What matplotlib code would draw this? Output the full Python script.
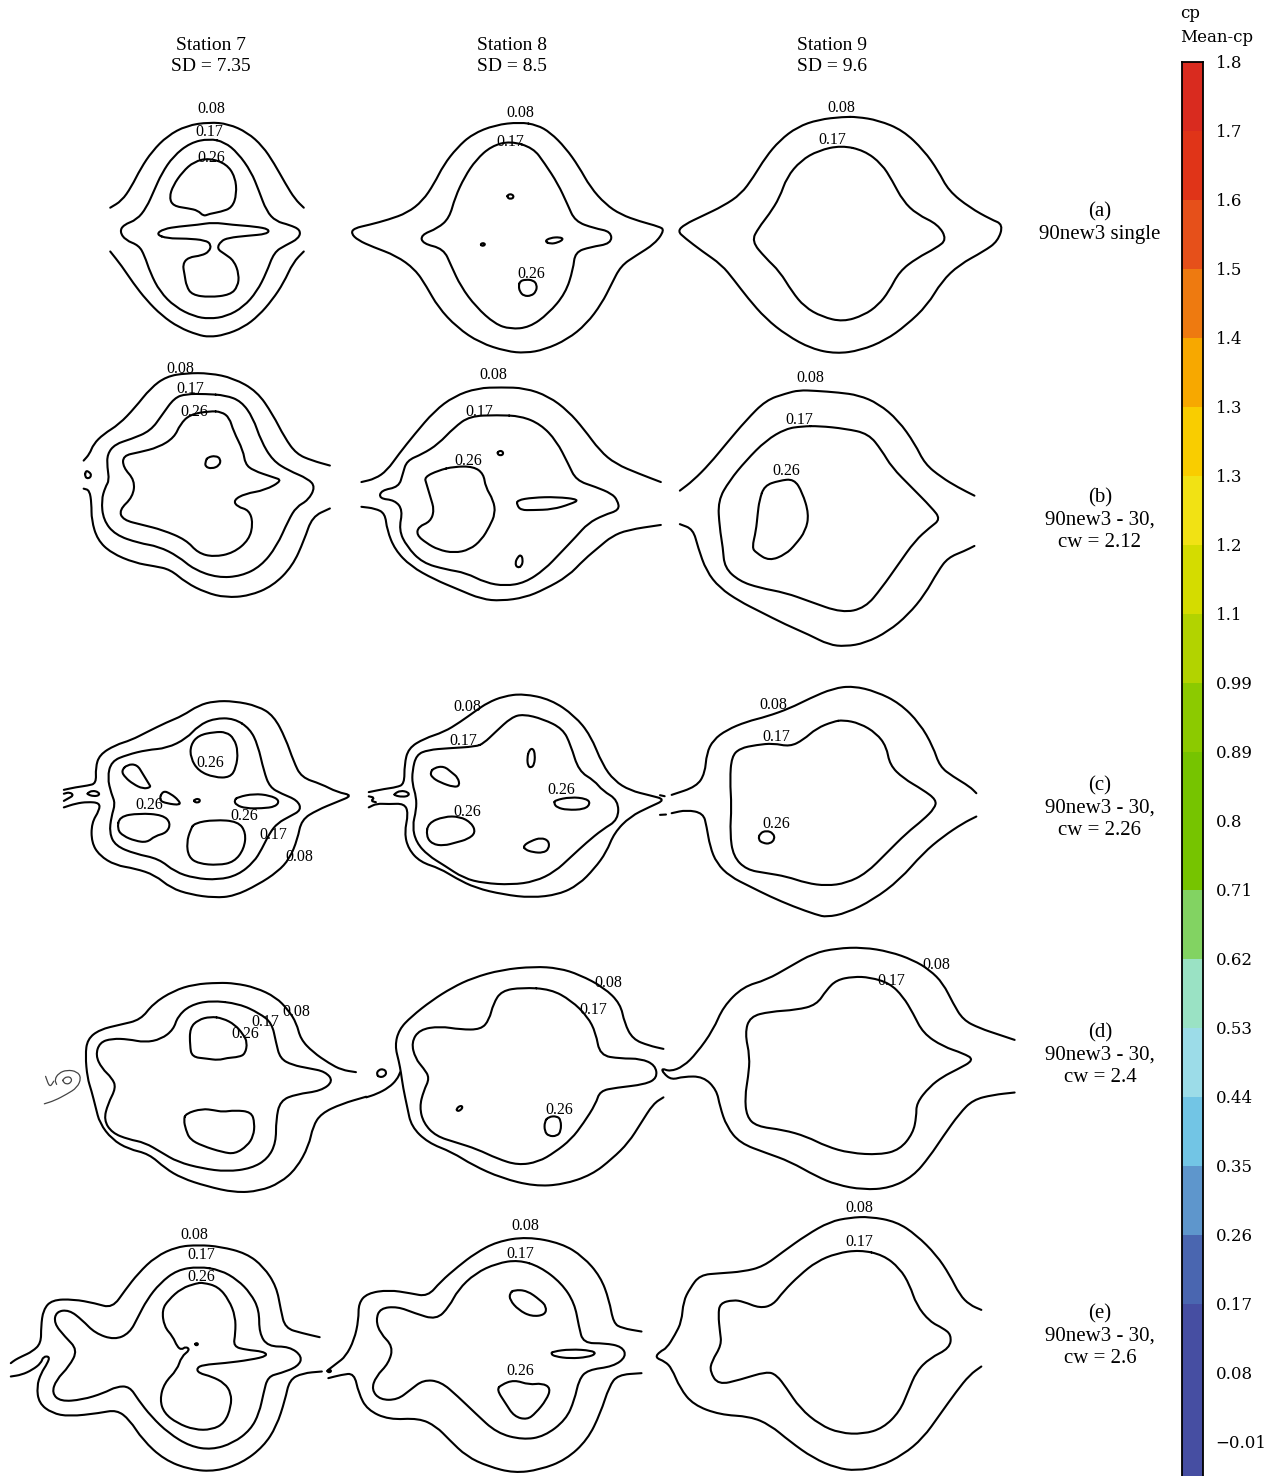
import matplotlib
matplotlib.use("Agg")
import matplotlib.pyplot as plt
from matplotlib.path import Path
from matplotlib.patches import PathPatch

W_PX, H_PX = 1267, 1476

# ---- case / station descriptors -------------------------------------------
STATIONS = ["Station 7", "Station 8", "Station 9"]
SD_VALUES = [7.35, 8.5, 9.6]
CASE_TAGS = ["(a)", "(b)", "(c)", "(d)", "(e)"]
CASE_CW = [None, 2.12, 2.26, 2.4, 2.6]

# ---- colour scale (Mean-cp) -----------------------------------------------
CBAR_LEVELS = [1.8, 1.7, 1.6, 1.5, 1.4, 1.3, 1.3, 1.2, 1.1, 0.99, 0.89,
               0.8, 0.71, 0.62, 0.53, 0.44, 0.35, 0.26, 0.17, 0.08, -0.01]
BAND_COLORS = ["#d92b1f", "#e03418", "#e6501a", "#ee7a10", "#f7a800",
               "#f9cd00", "#f1e214", "#d4dc00", "#b2d300", "#8cca00",
               "#76c400", "#76c400", "#82d362", "#9ae2c4", "#9cdce8",
               "#72c5e5", "#5e96cc", "#4a66b0", "#464ea2", "#464ea2"]

# ---- iso-cp lines, section coordinates (one frame per row strip) -----------
# row (a)
A7_08_TOP = [(40,350),(70,330),(95,290),(120,235),(150,185),(190,140),(240,110),(300,100),(350,105),(400,130),(440,170),(470,220),(500,280),(525,325),(548,350)]
A7_08_BOT = [(40,478),(70,520),(100,570),(135,620),(175,665),(220,700),(270,722),(300,728),(340,722),(390,700),(430,665),(465,620),(495,570),(520,510),(548,478)]
A7_17 = [(300,148),(250,160),(205,200),(175,250),(155,300),(135,350),(110,385),(75,400),(65,420),(80,445),(115,460),(130,490),(145,540),(170,595),(210,640),(260,668),(300,675),(345,668),(390,640),(425,595),(450,540),(470,480),(500,460),(535,440),(540,415),(510,400),(475,390),(450,360),(430,300),(410,245),(375,190),(340,158),(300,148)]
A7_26_TOP = [(300,205),(260,215),(230,245),(205,285),(195,320),(205,345),(245,352),(270,358),(285,375),(300,368),(330,362),(360,350),(372,310),(368,260),(345,222),(300,205)]
A7_26_LOW = [(160,428),(180,412),(220,405),(270,400),(310,393),(360,400),(420,405),(458,413),(452,427),(400,432),(350,438),(330,448),(320,470),(340,485),(365,505),(378,545),(375,580),(355,605),(300,612),(255,605),(240,580),(235,545),(230,515),(245,495),(280,490),(300,478),(305,458),(290,445),(240,440),(190,440),(160,428)]

A8_08 = [(1115,100),(1050,108),(990,135),(950,175),(915,225),(890,280),(860,330),(820,365),(770,385),(720,400),(680,410),(672,425),(690,445),(730,465),(790,490),(840,530),(870,580),(900,640),(950,700),(1010,745),(1080,770),(1130,775),(1180,765),(1240,735),(1290,690),(1330,630),(1355,575),(1380,520),(1420,490),(1470,455),(1495,415),(1480,405),(1430,390),(1380,370),(1340,340),(1300,290),(1270,230),(1235,175),(1195,130),(1160,108),(1115,100)]
A8_17 = [(1090,155),(1040,170),(1000,210),(970,260),(945,320),(930,380),(900,410),(855,430),(860,455),(915,470),(935,520),(960,580),(1000,640),(1050,690),(1090,705),(1140,700),(1190,660),(1235,600),(1255,530),(1260,480),(1300,465),(1355,455),(1355,420),(1310,410),(1260,390),(1240,340),(1215,280),(1180,220),(1150,175),(1090,155)]
A8_26_A = [(1083,312),(1095,310),(1100,320),(1090,325),(1082,320),(1083,312)]
A8_26_B = [(1012,455),(1022,453),(1024,460),(1014,462),(1012,455)]
A8_26_C = [(1180,448),(1195,438),(1220,436),(1230,442),(1215,452),(1195,456),(1180,448)]
A8_26_D = [(1115,565),(1130,560),(1150,562),(1160,575),(1158,595),(1145,608),(1125,608),(1115,595),(1112,580),(1115,565)]

A9_08 = [(520,80),(450,88),(390,110),(340,150),(300,200),(265,260),(230,310),(180,345),(120,375),(70,400),(50,420),(70,440),(120,480),(175,520),(210,565),(250,620),(300,680),(360,730),(430,770),(500,785),(570,775),(640,745),(700,700),(760,640),(800,570),(850,520),(920,480),(960,450),(975,400),(940,385),(880,350),(820,300),(790,240),(750,180),(690,120),(620,90),(560,80),(520,80)]
A9_17 = [(515,165),(450,180),(400,210),(360,260),(340,320),(310,370),(280,410),(260,450),(300,500),(340,540),(375,600),(410,645),(460,675),(520,690),(580,670),(620,640),(650,600),(680,540),(730,500),(785,470),(815,445),(790,400),(730,370),(690,330),(660,270),(630,220),(580,180),(515,165)]

# row (b)
B7_08_TOP = [(60,320),(75,300),(85,270),(110,240),(150,210),(190,160),(230,100),(270,65),(320,55),(380,55),(440,70),(500,110),(540,180),(570,250),(600,300),(640,320),(685,335)]
B7_08_BOT = [(60,405),(75,410),(80,450),(80,500),(95,560),(130,600),(190,630),(240,640),(280,650),(320,690),(370,720),(420,735),(480,730),(540,700),(590,640),(620,560),(640,490),(685,465)]
B7_08_EDGE = [(65,350),(75,355),(80,365),(73,375),(63,370),(65,350)]
B7_17 = [(370,118),(320,118),(290,130),(260,180),(230,230),(180,255),(140,270),(120,300),(120,340),(125,380),(115,400),(105,440),(110,500),(140,545),(200,570),(250,580),(300,610),(340,650),(400,675),(460,670),(510,640),(550,580),(580,500),(600,460),(630,440),(648,400),(630,375),(580,350),(540,320),(510,260),(490,190),(460,140),(420,122),(370,118)]
B7_26 = [(380,170),(330,180),(305,210),(290,250),(250,280),(200,295),(160,305),(160,340),(190,380),(185,430),(150,470),(160,500),(210,515),(260,530),(320,560),(350,600),(390,612),(440,600),(480,560),(490,510),(480,470),(450,460),(440,440),(470,420),(520,410),(565,380),(540,370),(490,350),(470,330),(465,290),(440,230),(430,190),(410,172),(380,170)]
B7_26_ISLE = [(375,310),(395,305),(408,315),(405,335),(385,345),(368,338),(370,320),(375,310)]

B8_08_TOP = [(765,385),(800,375),(830,350),(860,300),(900,240),(950,170),(1000,125),(1060,100),(1120,98),(1180,100),(1240,125),(1290,170),(1330,225),(1370,290),(1410,330),(1470,360),(1525,385)]
B8_08_BOT = [(765,460),(800,465),(825,480),(830,530),(850,590),(890,640),(950,680),(1010,710),(1070,740),(1120,745),(1180,735),(1230,710),(1290,670),(1330,620),(1370,580),(1400,550),(1440,530),(1525,515)]
B8_17 = [(1110,182),(1040,185),(1000,220),(960,270),(920,300),(880,320),(870,360),(860,400),(815,410),(810,435),(850,440),(870,470),(860,530),(880,580),(920,630),(980,650),(1030,660),(1080,690),(1130,700),(1180,690),(1230,650),(1270,600),(1310,550),(1340,510),(1380,485),(1420,470),(1415,440),(1400,420),(1360,400),(1310,380),(1290,330),(1260,260),(1220,210),(1170,185),(1110,182)]
B8_26_LEFT = [(1000,338),(1050,338),(1075,360),(1080,400),(1100,440),(1105,480),(1090,520),(1070,560),(1040,590),(1000,600),(960,590),(930,570),(905,545),(910,520),(940,505),(950,470),(940,430),(930,390),(925,370),(960,350),(1000,338)]
B8_26_BAND = [(1160,440),(1200,432),(1260,430),(1320,438),(1295,452),(1250,468),(1200,470),(1170,470),(1160,455),(1160,440)]
B8_26_DOT = [(1112,292),(1122,290),(1126,300),(1118,305),(1110,300),(1112,292)]
B8_26_DROP = [(1160,645),(1155,630),(1162,612),(1170,605),(1175,620),(1172,640),(1160,645)]

B9_08_TOP = [(60,390),(100,360),(150,310),(200,250),(260,180),(320,120),(380,100),(420,90),(470,92),(540,97),(600,105),(660,130),(720,180),(770,250),(800,310),(850,350),(900,380),(950,405)]
B9_08_BOT = [(60,490),(100,505),(115,560),(140,630),(180,680),(240,720),(300,750),(380,790),(450,820),(510,850),(560,855),(620,845),(690,810),(750,760),(800,700),(840,630),(870,590),(920,570),(950,555)]
B9_17 = [(430,198),(380,205),(320,240),(260,300),(210,360),(175,420),(180,500),(190,560),(195,620),(240,660),(300,680),(380,695),(450,720),(550,755),(620,740),(670,680),(720,610),(770,540),(815,500),(848,475),(820,440),(760,380),(700,320),(670,270),(630,220),(560,205),(480,197),(430,198)]
B9_26 = [(315,375),(360,360),(405,355),(430,395),(450,460),(440,510),(410,550),(380,580),(330,600),(290,575),(278,560),(290,510),(295,460),(300,420),(315,375)]

# row (c)
C7_08 = [(40,338),(70,330),(100,325),(122,318),(120,270),(130,230),(170,200),(210,185),(250,160),(300,130),(340,110),(380,78),(420,65),(470,65),(530,80),(570,110),(600,180),(620,250),(640,300),(690,320),(730,345),(770,355),(730,375),(680,400),(640,430),(630,490),(610,550),(580,590),(530,630),(470,665),(420,670),(360,660),(310,640),(270,600),(220,580),(170,570),(130,540),(110,500),(110,440),(130,400),(130,378),(100,375),(70,380),(40,392)]
C7_08_TAIL = [(40,350),(55,345),(65,355),(50,365),(40,372)]
C7_OVAL = [(100,348),(112,340),(128,345),(130,355),(115,358),(100,352),(100,348)]
C7_17 = [(470,118),(420,118),(380,140),(350,180),(300,210),(250,215),(200,230),(160,250),(150,300),(160,350),(170,380),(160,420),(155,470),(170,510),(220,535),(280,550),(320,590),(370,610),(430,615),(480,600),(520,560),(540,520),(560,470),(580,440),(610,420),(640,400),(630,370),(590,350),(560,330),(545,280),(530,200),(510,150),(470,118)]
C7_26_TOP = [(420,160),(380,170),(360,200),(360,240),(380,280),(420,300),(460,300),(475,270),(480,220),(470,180),(450,160),(420,160)]
C7_26_UL = [(200,260),(225,260),(240,290),(255,320),(260,330),(240,335),(215,320),(195,300),(185,280),(200,260)]
C7_26_TRI = [(290,340),(310,350),(330,370),(335,385),(300,380),(280,370),(290,340)]
C7_26_DOT = [(370,368),(380,365),(385,372),(378,378),(368,374),(370,368)]
C7_26_R = [(480,360),(520,350),(560,355),(585,370),(575,390),(540,395),(500,395),(475,385),(470,370),(480,360)]
C7_26_LL = [(180,420),(230,410),(290,415),(310,440),(300,470),(270,480),(250,500),(220,495),(190,480),(175,460),(180,420)]
C7_26_LC = [(370,440),(420,430),(480,435),(500,470),(495,520),(470,560),(430,570),(380,565),(355,545),(350,500),(360,460),(370,440)]

C8_08 = [(810,345),(850,335),(880,330),(900,320),(900,260),(910,210),(950,180),(1000,160),(1040,130),(1080,95),(1110,70),(1150,50),(1200,42),(1270,60),(1330,110),(1370,170),(1400,260),(1430,310),(1470,340),(1520,355),(1560,368),(1520,390),(1470,420),(1430,470),(1410,530),(1380,580),(1340,630),(1290,660),(1220,670),(1150,660),(1080,640),(1030,610),(990,580),(940,560),(910,520),(900,470),(910,410),(900,380),(860,382),(830,380),(810,392)]
C8_08_TAIL = [(810,358),(825,362),(815,372),(828,376)]
C8_OVAL = [(875,350),(890,340),(910,345),(912,356),(895,360),(875,355),(875,350)]
C8_17 = [(1080,205),(1010,210),(960,215),(930,230),(920,280),(920,320),(930,360),(930,400),(920,450),(930,500),(960,540),(1000,570),(1050,610),(1100,625),(1170,630),(1230,620),(1280,590),(1320,545),(1360,500),(1400,460),(1440,430),(1440,370),(1400,340),(1380,310),(1340,280),(1320,200),(1300,150),(1250,120),(1200,105),(1170,115),(1130,160),(1100,195),(1080,205)]
C8_26_UL = [(975,270),(1000,265),(1020,285),(1035,300),(1040,325),(1025,330),(990,315),(970,300),(965,285),(975,270)]
C8_26_TOP = [(1215,215),(1225,210),(1230,230),(1228,260),(1220,270),(1212,265),(1210,240),(1215,215)]
C8_26_R = [(1280,370),(1320,360),(1360,365),(1370,380),(1355,398),(1310,400),(1285,392),(1278,380),(1280,370)]
C8_26_LL = [(960,440),(1000,420),(1040,420),(1070,440),(1080,470),(1060,490),(1030,500),(1000,510),(970,505),(955,480),(960,440)]
C8_26_LR = [(1200,510),(1220,495),(1245,485),(1265,495),(1265,520),(1250,532),(1225,530),(1205,522),(1200,510)]

C9_08_TOP = [(35,345),(110,320),(135,280),(140,220),(160,180),(200,150),(260,125),(320,110),(390,85),(450,55),(520,25),(580,18),(650,35),(720,70),(780,130),(820,200),(840,260),(880,290),(930,320),(950,340)]
C9_08_BOT = [(35,400),(80,390),(130,400),(140,440),(150,500),(170,550),(210,590),(270,620),(330,650),(400,680),(470,705),(500,712),(560,700),(640,660),(720,600),(790,520),(850,470),(910,430),(950,410)]
C9_08_STUB_T = [(0,346),(14,349)]
C9_08_STUB_B = [(0,405),(18,404)]
C9_17 = [(520,125),(470,145),(430,180),(390,200),(340,190),(290,195),(240,205),(215,230),(210,300),(215,380),(210,460),(220,530),(260,570),(320,580),(380,590),(440,610),(500,618),(560,610),(620,580),(680,520),(740,460),(790,420),(825,385),(830,360),(790,330),(730,295),(690,255),(680,200),(650,160),(600,130),(550,120),(520,125)]
C9_26 = [(300,460),(320,452),(340,460),(345,478),(330,492),(310,490),(295,480),(300,460)]

# row (d)
D7_08 = [(795,372),(760,365),(730,345),(690,310),(660,270),(650,220),(630,180),(600,140),(550,110),(500,97),(460,95),(400,100),(350,120),(300,160),(270,210),(220,225),(170,240),(140,270),(135,320),(140,390),(150,430),(160,480),(170,530),(200,580),(240,610),(290,625),(330,670),(370,700),(430,725),(500,745),(560,740),(610,715),(650,670),(680,600),(690,540),(710,500),(760,470),(820,448)]
D7_17 = [(440,150),(390,165),(360,200),(350,240),(320,270),(280,280),(240,270),(200,268),(170,280),(160,320),(175,360),(200,390),(210,420),(190,470),(180,520),(200,560),(240,580),(280,590),(320,620),(360,650),(420,670),(480,680),(540,670),(580,640),(600,590),(600,520),(610,460),(650,440),(710,430),(740,400),(720,370),(680,360),(640,350),(610,330),(600,280),(590,220),(560,190),(510,160),(440,150)]
D7_26_TOP = [(440,200),(410,210),(390,235),(390,290),(395,325),(430,330),(460,335),(480,328),(510,325),(525,315),(530,280),(520,255),(500,225),(470,205),(440,200)]
D7_26_BOT = [(380,500),(420,485),(450,490),(470,495),(500,490),(540,495),(548,530),(545,570),(530,600),(500,625),(470,620),(420,600),(390,580),(380,550),(375,520),(380,500)]
D7_SWIRL = [(35,470),(60,460),(90,440),(115,420),(125,390),(115,370),(90,365),(70,375),(60,395),(65,410)]
D7_RING = [(80,395),(90,385),(102,390),(100,405),(88,410),(80,400),(80,395)]
D7_V = [(38,385),(48,420),(58,400)]

D8_08 = [(1545,300),(1510,290),(1470,270),(1450,220),(1440,160),(1400,110),(1340,70),(1290,50),(1230,45),(1150,55),(1080,80),(1030,110),(980,150),(930,200),(900,240),(890,290),(900,340),(905,375),(910,420),(920,480),(930,540),(970,590),(1030,620),(1080,660),(1150,700),(1230,725),(1300,720),(1370,690),(1420,640),(1460,590),(1490,530),(1520,470),(1545,450)]
D8_TAIL = [(820,450),(845,440),(875,420),(895,395),(903,372)]
D8_RING = [(845,378),(850,365),(862,362),(870,372),(865,385),(852,388),(845,378)]
D8_17 = [(1200,110),(1150,120),(1130,160),(1120,210),(1100,240),(1050,240),(1000,230),(950,240),(930,280),(940,330),(960,360),(975,390),(960,430),(950,480),(960,530),(990,570),(1040,590),(1090,610),(1140,640),(1190,660),(1240,650),(1280,620),(1320,580),(1350,530),(1380,470),(1390,430),(1430,420),(1500,410),(1530,390),(1525,350),(1490,330),(1440,330),(1390,320),(1380,250),(1360,200),(1320,150),(1270,115),(1200,110)]
D8_26_BLOB = [(1265,510),(1285,508),(1295,520),(1295,555),(1285,570),(1265,570),(1255,555),(1255,525),(1265,510)]
D8_26_OVAL = [(1040,485),(1050,475),(1056,480),(1050,490),(1042,493),(1040,485)]

D9_08 = [(1095,300),(1050,285),(990,265),(940,240),(910,190),(880,130),(840,90),(790,60),(720,35),(640,22),(560,25),(490,40),(420,80),(350,120),(280,140),(220,200),(190,270),(140,340),(100,380),(60,395),(35,385),(40,400),(65,420),(100,410),(160,410),(200,450),(210,500),(230,560),(270,610),(350,640),(420,665),(500,710),(560,735),(640,750),(720,745),(790,710),(840,650),(880,590),(930,520),(970,480),(1030,465),(1095,458)]
D9_17 = [(610,110),(560,120),(530,150),(500,195),(440,210),(360,215),(300,230),(285,280),(300,350),(295,410),(285,470),(290,530),(320,560),(400,570),(470,590),(530,620),(600,640),(690,645),(750,630),(790,580),(800,530),(800,490),(840,440),(880,410),(920,390),(975,360),(940,340),(880,320),(820,280),(790,220),(760,170),(720,130),(660,112),(610,110)]

# row (e)
E7_08_TOP = [(740,412),(700,400),(660,385),(650,330),(640,260),(610,200),(570,160),(510,140),(460,135),(410,140),(360,170),(320,220),(290,270),(260,325),(220,310),(170,298),(120,300),(100,330),(95,380),(95,430),(75,455),(50,470),(35,480),(25,490)]
E7_08_BOT = [(25,530),(50,525),(75,510),(95,490),(100,470),(115,470),(110,490),(95,520),(85,560),(90,610),(120,640),(160,650),(230,640),(270,630),(300,660),(330,720),(380,780),(440,810),(500,815),(560,790),(610,740),(640,680),(660,600),(670,540),(700,520),(745,515)]
E7_17 = [(460,200),(410,210),(370,250),(340,300),(320,350),(300,400),(265,420),(220,400),(190,360),(160,330),(130,335),(125,370),(150,410),(180,450),(160,500),(130,540),(120,580),(140,605),(190,600),(240,580),(270,560),(300,560),(320,600),(350,650),(390,700),(440,740),(490,750),(540,730),(580,690),(600,640),(610,580),(620,530),(650,520),(690,500),(700,470),(670,440),(620,440),(600,400),(600,330),(580,280),(550,240),(510,210),(460,200)]
E7_26 = [(455,250),(420,265),(390,300),(375,330),(380,380),(400,410),(410,440),(420,450),(430,440),(440,450),(420,470),(410,510),(380,550),(370,600),(380,640),(410,670),(450,690),(490,690),(520,670),(535,620),(535,580),(520,550),(490,530),(460,520),(455,505),(470,495),(520,490),(580,480),(620,468),(610,455),(570,450),(540,440),(545,400),(545,350),(530,300),(505,260),(470,248),(455,250)]
E7_26_DOT = [(452,430),(458,430),(458,436),(452,436),(452,430)]

E8_08_TOP = [(1485,395),(1440,385),(1420,370),(1410,300),(1390,230),(1350,170),(1300,130),(1220,110),(1150,125),(1100,160),(1060,200),(1020,245),(990,290),(950,280),(900,270),(850,280),(830,310),(830,360),(820,420),(800,470),(780,490),(760,510)]
E8_08_BOT = [(760,535),(790,525),(820,520),(830,580),(850,630),(900,660),(970,655),(1010,680),(1040,720),(1080,770),(1130,800),(1190,820),(1250,810),(1310,780),(1360,720),(1390,640),(1410,560),(1430,525),(1485,520)]
E8_17 = [(1200,180),(1150,190),(1100,220),(1060,270),(1040,320),(1010,360),(960,340),(920,320),(880,325),(870,360),(880,400),(910,440),(900,490),(870,530),(860,570),(880,600),(920,600),(950,570),(980,540),(1020,545),(1060,590),(1100,640),(1150,700),(1210,720),(1260,710),(1310,660),(1330,600),(1340,540),(1360,510),(1420,500),(1450,470),(1440,440),(1400,430),(1350,430),(1340,380),(1330,310),(1300,250),(1250,200),(1200,180)]
E8_26_TOP = [(1190,270),(1220,272),(1250,300),(1265,320),(1262,345),(1230,350),(1200,330),(1180,300),(1180,280),(1190,270)]
E8_26_OVAL = [(1280,455),(1320,448),(1370,452),(1380,462),(1360,472),(1320,476),(1285,470),(1275,462),(1280,455)]
E8_26_LOW = [(1160,555),(1190,540),(1225,555),(1255,550),(1275,565),(1265,600),(1240,640),(1220,660),(1190,650),(1170,610),(1150,570),(1160,555)]
E8_DOT = [(758,510),(766,510),(766,517),(758,517),(758,510)]

E9_08 = [(995,345),(960,330),(930,300),(900,240),(860,180),(800,120),(740,80),(660,65),(600,68),(540,80),(470,120),(400,170),(340,215),(280,230),(210,235),(150,240),(120,280),(100,320),(95,380),(75,420),(50,460),(30,470),(15,488),(45,500),(65,520),(90,580),(130,630),(210,660),(300,665),(360,690),(420,740),(490,790),(560,820),(620,828),(690,815),(760,780),(820,730),(870,660),(920,590),(960,540),(995,515)]
E9_17 = [(630,165),(560,175),(500,200),(450,240),(400,290),(370,330),(330,340),(280,320),(250,315),(210,325),(205,360),(210,410),(215,450),(185,500),(180,530),(205,570),(270,555),(350,530),(380,540),(410,580),(450,640),(510,690),(570,715),(640,718),(700,700),(750,650),(775,590),(800,530),(840,490),(900,460),(905,420),(880,400),(840,380),(800,330),(780,270),(750,220),(700,180),(630,165)]

# strips: (left px, top px, px per unit x, px per unit y)
STRIPS = [
    (95, 88, 0.381, 0.342), (660, 90, 0.352, 0.336),
    (60, 355, 0.394, 0.330), (660, 360, 0.331, 0.335),
    (48, 680, 0.396, 0.325), (660, 680, 0.333, 0.333),
    (30, 952, 0.410, 0.323), (650, 940, 0.333, 0.333),
    (0, 1200, 0.432, 0.333), (650, 1195, 0.333, 0.333),
]

# (strip, [(level, line)], [(level, x, y)] label anchors)
PANELS = [
    (0, [(0.08, A7_08_TOP), (0.08, A7_08_BOT), (0.17, A7_17), (0.26, A7_26_TOP), (0.26, A7_26_LOW)],
        [(0.08, 305, 62), (0.17, 300, 130), (0.26, 305, 205)]),
    (0, [(0.08, A8_08), (0.17, A8_17), (0.26, A8_26_A), (0.26, A8_26_B), (0.26, A8_26_C), (0.26, A8_26_D)],
        [(0.08, 1115, 72), (0.17, 1090, 158), (0.26, 1145, 545)]),
    (1, [(0.08, A9_08), (0.17, A9_17)],
        [(0.08, 515, 55), (0.17, 490, 150)]),
    (2, [(0.08, B7_08_TOP), (0.08, B7_08_BOT), (0.08, B7_08_EDGE), (0.17, B7_17), (0.26, B7_26), (0.26, B7_26_ISLE)],
        [(0.08, 305, 42), (0.17, 330, 102), (0.26, 340, 172)]),
    (2, [(0.08, B8_08_TOP), (0.08, B8_08_BOT), (0.17, B8_17), (0.26, B8_26_LEFT), (0.26, B8_26_BAND),
         (0.26, B8_26_DOT), (0.26, B8_26_DROP)],
        [(0.08, 1100, 60), (0.17, 1065, 172), (0.26, 1035, 320)]),
    (3, [(0.08, B9_08_TOP), (0.08, B9_08_BOT), (0.17, B9_17), (0.26, B9_26)],
        [(0.08, 455, 55), (0.17, 420, 178), (0.26, 380, 330)]),
    (4, [(0.08, C7_08), (0.08, C7_08_TAIL), (0.17, C7_OVAL), (0.17, C7_17), (0.26, C7_26_TOP), (0.26, C7_26_UL),
         (0.26, C7_26_TRI), (0.26, C7_26_DOT), (0.26, C7_26_R), (0.26, C7_26_LL), (0.26, C7_26_LC)],
        [(0.26, 410, 255), (0.26, 255, 385), (0.26, 495, 418), (0.17, 570, 478), (0.08, 635, 545)]),
    (4, [(0.08, C8_08), (0.08, C8_08_TAIL), (0.17, C8_OVAL), (0.17, C8_17), (0.26, C8_26_UL), (0.26, C8_26_TOP),
         (0.26, C8_26_R), (0.26, C8_26_LL), (0.26, C8_26_LR)],
        [(0.08, 1060, 82), (0.17, 1048, 188), (0.26, 1295, 340), (0.26, 1058, 405)]),
    (5, [(0.08, C9_08_TOP), (0.08, C9_08_BOT), (0.08, C9_08_STUB_T), (0.08, C9_08_STUB_B), (0.17, C9_17), (0.26, C9_26)],
        [(0.08, 340, 75), (0.17, 350, 172), (0.26, 348, 432)]),
    (6, [(0.08, D7_08), (0.17, D7_17), (0.26, D7_26_TOP), (0.26, D7_26_BOT)],
        [(0.08, 650, 185), (0.17, 575, 218), (0.26, 525, 255)]),
    (6, [(0.08, D8_08), (0.08, D8_TAIL), (0.17, D8_RING), (0.17, D8_17), (0.26, D8_26_BLOB), (0.26, D8_26_OVAL)],
        [(0.08, 1410, 97), (0.17, 1375, 180), (0.26, 1290, 488)]),
    (7, [(0.08, D9_08), (0.17, D9_17)],
        [(0.08, 860, 75), (0.17, 725, 122)]),
    (8, [(0.08, E7_08_TOP), (0.08, E7_08_BOT), (0.17, E7_17), (0.26, E7_26), (0.26, E7_26_DOT)],
        [(0.08, 450, 105), (0.17, 465, 165), (0.26, 465, 232)]),
    (8, [(0.08, E8_08_TOP), (0.08, E8_08_BOT), (0.08, E8_DOT), (0.17, E8_17), (0.26, E8_26_TOP),
         (0.26, E8_26_OVAL), (0.26, E8_26_LOW)],
        [(0.08, 1215, 78), (0.17, 1205, 162), (0.26, 1205, 515)]),
    (9, [(0.08, E9_08), (0.17, E9_17)],
        [(0.08, 630, 40), (0.17, 630, 140)]),
]

# faint vortex trace left of station 7, row (d)
THIN_LINES = [(6, D7_SWIRL), (6, D7_RING), (6, D7_V)]

SERIF = ["Liberation Serif", "DejaVu Serif"]
CBAR_FONT = ["DejaVu Serif"]


def px_rect(left, top, width, height):
    return [left / W_PX, 1 - (top + height) / H_PX, width / W_PX, height / H_PX]


def _mid(p, q):
    return ((p[0] + q[0]) / 2, (p[1] + q[1]) / 2)


def smooth_path(pts):
    """Quadratic-Bezier path through the vertex midpoints (vertices act as control points)."""
    closed = len(pts) > 3 and pts[0] == pts[-1]
    if closed:
        p = pts[:-1]
        n = len(p)
        verts = [_mid(p[-1], p[0])]
        codes = [Path.MOVETO]
        for i in range(n):
            verts += [p[i], _mid(p[i], p[(i + 1) % n])]
            codes += [Path.CURVE3, Path.CURVE3]
        return Path(verts, codes)
    if len(pts) < 3:
        return Path(pts)
    verts = [pts[0], _mid(pts[0], pts[1])]
    codes = [Path.MOVETO, Path.LINETO]
    for i in range(1, len(pts) - 1):
        verts += [pts[i], _mid(pts[i], pts[i + 1])]
        codes += [Path.CURVE3, Path.CURVE3]
    verts.append(pts[-1])
    codes.append(Path.LINETO)
    return Path(verts, codes)


def draw_line(ax, pts, lw=1.5, color="black"):
    ax.add_patch(PathPatch(smooth_path(pts), fill=False, edgecolor=color, lw=lw,
                           joinstyle="round", capstyle="round", clip_on=False))


fig = plt.figure(figsize=(W_PX / 100, H_PX / 100), dpi=100)
fig.patch.set_facecolor("white")

SPAN_X, SPAN_Y = 1600, 860
axes = []
for left, top, kx, ky in STRIPS:
    ax = fig.add_axes(px_rect(left, top, SPAN_X * kx, SPAN_Y * ky))
    ax.set_xlim(0, SPAN_X)
    ax.set_ylim(SPAN_Y, 0)
    ax.axis("off")
    axes.append(ax)

for strip, lines, labels in PANELS:
    ax = axes[strip]
    for level, pts in lines:
        draw_line(ax, pts)
    for level, x, y in labels:
        ax.text(x, y, f"{level:.2f}", ha="center", va="center", fontsize=11.5,
                family=SERIF, zorder=5)

for strip, pts in THIN_LINES:
    draw_line(axes[strip], pts, lw=0.9, color="#444444")

# column headers
col_x = [211, 512, 832]
for cx, name, sd in zip(col_x, STATIONS, SD_VALUES):
    fig.text(cx / W_PX, 1 - 56 / H_PX, f"{name}\nSD = {sd:g}", ha="center", va="center",
             fontsize=14, family=SERIF, linespacing=1.3)

# case labels on the right
row_y = [223, 520, 808, 1055, 1336]
for ry, tag, cw in zip(row_y, CASE_TAGS, CASE_CW):
    if cw is None:
        txt = f"{tag}\n90new3 single"
    else:
        txt = f"{tag}\n90new3 - 30,\ncw = {cw:g}"
    fig.text(1100 / W_PX, 1 - ry / H_PX, txt, ha="center", va="center",
             fontsize=15, family=SERIF, linespacing=1.22)

# colour bar
cax = fig.add_axes(px_rect(1182, 62, 21, H_PX - 62))
n_bands = len(BAND_COLORS)
for i, c in enumerate(BAND_COLORS):
    h = 1.5 if i == n_bands - 1 else 1.0
    cax.bar(0, h, bottom=i, width=1.0, color=c, linewidth=0, align="center")
cax.set_xlim(-0.5, 0.5)
cax.set_ylim(n_bands + 0.5, 0)
cax.set_xticks([])
cax.set_yticks(range(len(CBAR_LEVELS)))
cax.set_yticklabels([f"{v:g}".replace("-", "\u2212") for v in CBAR_LEVELS],
                    family=CBAR_FONT, fontsize=12)
cax.yaxis.tick_right()
cax.tick_params(axis="y", length=0, pad=9)
for side, sp in cax.spines.items():
    sp.set_linewidth(1.3)
cax.spines["bottom"].set_visible(False)

fig.text(1180 / W_PX, 1 - 14 / H_PX, "cp", ha="left", va="center", fontsize=12, family=CBAR_FONT)
fig.text(1180 / W_PX, 1 - 38 / H_PX, "Mean-cp", ha="left", va="center", fontsize=12, family=CBAR_FONT)

fig.savefig("out.png", dpi=100, facecolor="white")
